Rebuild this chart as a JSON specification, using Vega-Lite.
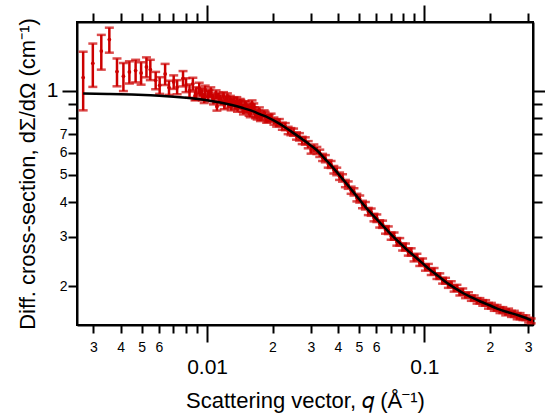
{
  "$schema": "https://vega.github.io/schema/vega-lite/v6.json",
  "autosize": {"type": "none"},
  "padding": {"left": 77, "top": 22, "right": 12, "bottom": 92},
  "width": 456,
  "height": 303,
  "background": "white",
  "config": {
    "view": {"stroke": "black", "strokeWidth": 2},
    "font": "Liberation Sans",
    "axis": {
      "grid": false,
      "domainColor": "black",
      "domainWidth": 2,
      "tickColor": "black",
      "tickWidth": 2,
      "labelColor": "black",
      "titleColor": "black",
      "labelFont": "Liberation Sans",
      "titleFont": "Liberation Sans",
      "titleFontWeight": "normal",
      "labelOverlap": false,
      "labelFlush": false,
      "labelBound": false
    }
  },
  "datasets": {
    "pts": [
      {"q": 0.00269, "I": 1.117, "err": 0.265},
      {"q": 0.00298, "I": 1.256, "err": 0.222},
      {"q": 0.00326, "I": 1.390, "err": 0.198},
      {"q": 0.00355, "I": 1.528, "err": 0.157},
      {"q": 0.00385, "I": 1.173, "err": 0.134},
      {"q": 0.00412, "I": 1.129, "err": 0.130},
      {"q": 0.00439, "I": 1.170, "err": 0.107},
      {"q": 0.00469, "I": 1.183, "err": 0.110},
      {"q": 0.00497, "I": 1.160, "err": 0.107},
      {"q": 0.00526, "I": 1.219, "err": 0.100},
      {"q": 0.00548, "I": 1.193, "err": 0.100},
      {"q": 0.00580, "I": 1.092, "err": 0.078},
      {"q": 0.00605, "I": 1.048, "err": 0.072},
      {"q": 0.00641, "I": 1.150, "err": 0.100},
      {"q": 0.00668, "I": 1.028, "err": 0.060},
      {"q": 0.00702, "I": 1.077, "err": 0.060},
      {"q": 0.00728, "I": 1.033, "err": 0.060},
      {"q": 0.00775, "I": 1.108, "err": 0.070},
      {"q": 0.0080, "I": 1.05, "err": 0.06},
      {"q": 0.0083, "I": 1.00, "err": 0.055},
      {"q": 0.0086, "I": 1.06, "err": 0.055},
      {"q": 0.0088, "I": 0.96, "err": 0.035},
      {"q": 0.0089, "I": 0.98, "err": 0.05},
      {"q": 0.0092, "I": 1.02, "err": 0.05},
      {"q": 0.0093, "I": 0.99, "err": 0.035},
      {"q": 0.0095, "I": 0.97, "err": 0.045},
      {"q": 0.0097, "I": 0.94, "err": 0.035},
      {"q": 0.0098, "I": 1.00, "err": 0.045},
      {"q": 0.0101, "I": 0.96, "err": 0.04},
      {"q": 0.0102, "I": 0.98, "err": 0.03},
      {"q": 0.0104, "I": 0.99, "err": 0.04},
      {"q": 0.0106, "I": 0.95, "err": 0.03},
      {"q": 0.0107, "I": 0.93, "err": 0.035},
      {"q": 0.0110, "I": 0.97, "err": 0.035},
      {"q": 0.0111, "I": 0.88, "err": 0.03},
      {"q": 0.0113, "I": 0.95, "err": 0.035},
      {"q": 0.0115, "I": 0.94, "err": 0.03},
      {"q": 0.0116, "I": 0.92, "err": 0.03},
      {"q": 0.0119, "I": 0.96, "err": 0.03},
      {"q": 0.0120, "I": 0.89, "err": 0.03},
      {"q": 0.0122, "I": 0.93, "err": 0.03},
      {"q": 0.0124, "I": 0.95, "err": 0.03},
      {"q": 0.0125, "I": 0.90, "err": 0.03},
      {"q": 0.0128, "I": 0.93, "err": 0.03},
      {"q": 0.0129, "I": 0.88, "err": 0.028},
      {"q": 0.0131, "I": 0.91, "err": 0.03},
      {"q": 0.0133, "I": 0.92, "err": 0.028},
      {"q": 0.0134, "I": 0.89, "err": 0.03},
      {"q": 0.0137, "I": 0.92, "err": 0.03},
      {"q": 0.0138, "I": 0.87, "err": 0.028},
      {"q": 0.0140, "I": 0.89, "err": 0.028},
      {"q": 0.0142, "I": 0.91, "err": 0.026},
      {"q": 0.0143, "I": 0.90, "err": 0.028},
      {"q": 0.0146, "I": 0.87, "err": 0.028},
      {"q": 0.0147, "I": 0.85, "err": 0.026},
      {"q": 0.0149, "I": 0.89, "err": 0.028},
      {"q": 0.0151, "I": 0.89, "err": 0.026},
      {"q": 0.0152, "I": 0.86, "err": 0.025},
      {"q": 0.0155, "I": 0.87, "err": 0.025},
      {"q": 0.0156, "I": 0.84, "err": 0.025},
      {"q": 0.0158, "I": 0.83, "err": 0.025},
      {"q": 0.0160, "I": 0.87, "err": 0.025},
      {"q": 0.0161, "I": 0.90, "err": 0.025},
      {"q": 0.0164, "I": 0.88, "err": 0.022},
      {"q": 0.0165, "I": 0.85, "err": 0.024},
      {"q": 0.0167, "I": 0.82, "err": 0.022},
      {"q": 0.0169, "I": 0.83, "err": 0.024},
      {"q": 0.0170, "I": 0.81, "err": 0.02},
      {"q": 0.0173, "I": 0.83, "err": 0.02},
      {"q": 0.0174, "I": 0.85, "err": 0.023},
      {"q": 0.0176, "I": 0.80, "err": 0.02},
      {"q": 0.0178, "I": 0.81, "err": 0.022},
      {"q": 0.0183, "I": 0.83, "err": 0.022},
      {"q": 0.0185, "I": 0.818, "err": 0.024},
      {"q": 0.0188, "I": 0.79, "err": 0.021},
      {"q": 0.0191, "I": 0.798, "err": 0.024},
      {"q": 0.0193, "I": 0.80, "err": 0.02},
      {"q": 0.0197, "I": 0.805, "err": 0.024},
      {"q": 0.0203, "I": 0.780, "err": 0.023},
      {"q": 0.0209, "I": 0.768, "err": 0.023},
      {"q": 0.0215, "I": 0.770, "err": 0.023},
      {"q": 0.0222, "I": 0.748, "err": 0.022},
      {"q": 0.0229, "I": 0.745, "err": 0.022},
      {"q": 0.0236, "I": 0.722, "err": 0.022},
      {"q": 0.0243, "I": 0.715, "err": 0.021},
      {"q": 0.0250, "I": 0.712, "err": 0.021},
      {"q": 0.0258, "I": 0.690, "err": 0.021},
      {"q": 0.0266, "I": 0.685, "err": 0.021},
      {"q": 0.0274, "I": 0.665, "err": 0.020},
      {"q": 0.0283, "I": 0.662, "err": 0.020},
      {"q": 0.0292, "I": 0.642, "err": 0.019},
      {"q": 0.0301, "I": 0.615, "err": 0.019},
      {"q": 0.0310, "I": 0.624, "err": 0.019},
      {"q": 0.0320, "I": 0.612, "err": 0.018},
      {"q": 0.0330, "I": 0.598, "err": 0.018},
      {"q": 0.0340, "I": 0.578, "err": 0.017},
      {"q": 0.0350, "I": 0.572, "err": 0.017},
      {"q": 0.0361, "I": 0.548, "err": 0.017},
      {"q": 0.0372, "I": 0.545, "err": 0.016},
      {"q": 0.0383, "I": 0.522, "err": 0.016},
      {"q": 0.0395, "I": 0.515, "err": 0.016},
      {"q": 0.0407, "I": 0.495, "err": 0.015},
      {"q": 0.0420, "I": 0.488, "err": 0.015},
      {"q": 0.0433, "I": 0.466, "err": 0.014},
      {"q": 0.0446, "I": 0.460, "err": 0.014},
      {"q": 0.0460, "I": 0.441, "err": 0.013},
      {"q": 0.0474, "I": 0.435, "err": 0.013},
      {"q": 0.0489, "I": 0.415, "err": 0.013},
      {"q": 0.0504, "I": 0.410, "err": 0.012},
      {"q": 0.0519, "I": 0.392, "err": 0.012},
      {"q": 0.0535, "I": 0.388, "err": 0.012},
      {"q": 0.0552, "I": 0.370, "err": 0.011},
      {"q": 0.0569, "I": 0.368, "err": 0.011},
      {"q": 0.0586, "I": 0.352, "err": 0.011},
      {"q": 0.0604, "I": 0.350, "err": 0.011},
      {"q": 0.0623, "I": 0.334, "err": 0.010},
      {"q": 0.0642, "I": 0.333, "err": 0.010},
      {"q": 0.0662, "I": 0.318, "err": 0.010},
      {"q": 0.0682, "I": 0.317, "err": 0.010},
      {"q": 0.0703, "I": 0.302, "err": 0.009},
      {"q": 0.0725, "I": 0.302, "err": 0.009},
      {"q": 0.0747, "I": 0.288, "err": 0.009},
      {"q": 0.0770, "I": 0.288, "err": 0.009},
      {"q": 0.0794, "I": 0.276, "err": 0.008},
      {"q": 0.0818, "I": 0.276, "err": 0.008},
      {"q": 0.0843, "I": 0.265, "err": 0.008},
      {"q": 0.0869, "I": 0.265, "err": 0.008},
      {"q": 0.0896, "I": 0.252, "err": 0.007},
      {"q": 0.0924, "I": 0.254, "err": 0.007},
      {"q": 0.0952, "I": 0.243, "err": 0.007},
      {"q": 0.0981, "I": 0.244, "err": 0.007},
      {"q": 0.1011, "I": 0.233, "err": 0.006},
      {"q": 0.1043, "I": 0.234, "err": 0.006},
      {"q": 0.1075, "I": 0.225, "err": 0.006},
      {"q": 0.1108, "I": 0.226, "err": 0.006},
      {"q": 0.1142, "I": 0.217, "err": 0.005},
      {"q": 0.1177, "I": 0.217, "err": 0.005},
      {"q": 0.1213, "I": 0.209, "err": 0.005},
      {"q": 0.1251, "I": 0.209, "err": 0.005},
      {"q": 0.1289, "I": 0.202, "err": 0.005},
      {"q": 0.1329, "I": 0.203, "err": 0.005},
      {"q": 0.1370, "I": 0.196, "err": 0.005},
      {"q": 0.1412, "I": 0.197, "err": 0.005},
      {"q": 0.1456, "I": 0.190, "err": 0.005},
      {"q": 0.1501, "I": 0.191, "err": 0.005},
      {"q": 0.1547, "I": 0.185, "err": 0.004},
      {"q": 0.1595, "I": 0.186, "err": 0.004},
      {"q": 0.1644, "I": 0.181, "err": 0.004},
      {"q": 0.1694, "I": 0.181, "err": 0.004},
      {"q": 0.1747, "I": 0.177, "err": 0.004},
      {"q": 0.1800, "I": 0.177, "err": 0.004},
      {"q": 0.1856, "I": 0.174, "err": 0.004},
      {"q": 0.1913, "I": 0.174, "err": 0.004},
      {"q": 0.1972, "I": 0.170, "err": 0.004},
      {"q": 0.2033, "I": 0.170, "err": 0.004},
      {"q": 0.2096, "I": 0.167, "err": 0.004},
      {"q": 0.2160, "I": 0.167, "err": 0.004},
      {"q": 0.2227, "I": 0.164, "err": 0.004},
      {"q": 0.2296, "I": 0.164, "err": 0.004},
      {"q": 0.2367, "I": 0.161, "err": 0.004},
      {"q": 0.2440, "I": 0.162, "err": 0.004},
      {"q": 0.2515, "I": 0.159, "err": 0.004},
      {"q": 0.2592, "I": 0.159, "err": 0.004},
      {"q": 0.2672, "I": 0.156, "err": 0.004},
      {"q": 0.2755, "I": 0.156, "err": 0.004},
      {"q": 0.2840, "I": 0.154, "err": 0.003},
      {"q": 0.2928, "I": 0.154, "err": 0.003},
      {"q": 0.3018, "I": 0.151, "err": 0.003},
      {"q": 0.3100, "I": 0.150, "err": 0.003}
    ],
    "fit": [
      {"q": 0.00269, "I": 0.980},
      {"q": 0.0035, "I": 0.976},
      {"q": 0.0045, "I": 0.971},
      {"q": 0.0055, "I": 0.965},
      {"q": 0.0065, "I": 0.958},
      {"q": 0.0075, "I": 0.950},
      {"q": 0.0085, "I": 0.941},
      {"q": 0.0100, "I": 0.926},
      {"q": 0.0115, "I": 0.909},
      {"q": 0.0130, "I": 0.890},
      {"q": 0.0145, "I": 0.870},
      {"q": 0.0160, "I": 0.850},
      {"q": 0.0176, "I": 0.824},
      {"q": 0.0190, "I": 0.804},
      {"q": 0.0215, "I": 0.764},
      {"q": 0.0250, "I": 0.706},
      {"q": 0.0285, "I": 0.657},
      {"q": 0.0320, "I": 0.613},
      {"q": 0.0350, "I": 0.569},
      {"q": 0.0383, "I": 0.527},
      {"q": 0.0420, "I": 0.484},
      {"q": 0.0457, "I": 0.447},
      {"q": 0.0500, "I": 0.410},
      {"q": 0.0545, "I": 0.378},
      {"q": 0.0585, "I": 0.356},
      {"q": 0.0627, "I": 0.336},
      {"q": 0.0700, "I": 0.307},
      {"q": 0.0775, "I": 0.284},
      {"q": 0.0830, "I": 0.270},
      {"q": 0.0893, "I": 0.257},
      {"q": 0.0970, "I": 0.243},
      {"q": 0.1066, "I": 0.228},
      {"q": 0.1160, "I": 0.217},
      {"q": 0.1272, "I": 0.205},
      {"q": 0.1390, "I": 0.196},
      {"q": 0.1517, "I": 0.188},
      {"q": 0.1650, "I": 0.182},
      {"q": 0.1810, "I": 0.176},
      {"q": 0.1980, "I": 0.171},
      {"q": 0.2161, "I": 0.166},
      {"q": 0.2360, "I": 0.162},
      {"q": 0.2576, "I": 0.159},
      {"q": 0.2770, "I": 0.156},
      {"q": 0.2970, "I": 0.153},
      {"q": 0.3100, "I": 0.151}
    ]
  },
  "layer": [
    {
      "data": {"name": "pts"},
      "mark": {"type": "errorbar", "color": "#cc0000", "thickness": 2.5, "ticks": {"size": 9, "thickness": 2.5, "color": "#cc0000"}},
      "encoding": {
        "x": {
          "field": "q", "type": "quantitative",
          "scale": {"type": "log", "domain": [0.00252, 0.316], "nice": false},
          "axis": {
            "orient": "bottom",
            "values": [0.003, 0.004, 0.005, 0.006, 0.007, 0.008, 0.009, 0.01, 0.02, 0.03, 0.04, 0.05, 0.06, 0.07, 0.08, 0.09, 0.1, 0.2, 0.3],
            "labelExpr": "datum.value == 0.01 ? '0.01' : datum.value == 0.1 ? '0.1' : (toNumber(slice(toString(datum.value), -1)) <= 6 ? slice(toString(datum.value), -1) : '')",
            "tickSize": {"condition": {"test": "datum.value == 0.01 || datum.value == 0.1", "value": 17}, "value": 8},
            "labelFontSize": {"condition": {"test": "datum.value == 0.01 || datum.value == 0.1", "value": 21}, "value": 14},
            "labelPadding": {"condition": {"test": "datum.value == 0.01 || datum.value == 0.1", "value": 14}, "value": 7},
            "labelBaseline": "top",
            "title": "Scattering vector, 𝑞 (Å⁻¹)",
            "titleFontSize": 22,
            "titleBaseline": "alphabetic",
            "titleY": 82
          }
        },
        "y": {
          "field": "I", "type": "quantitative",
          "scale": {"type": "log", "domain": [0.145, 1.766], "nice": false},
          "axis": {
            "orient": "left",
            "values": [0.2, 0.3, 0.4, 0.5, 0.6, 0.7, 0.8, 0.9, 1],
            "labelExpr": "datum.value == 1 ? '1' : (datum.value <= 0.7 ? slice(toString(datum.value), -1) : '')",
            "tickSize": {"condition": {"test": "datum.value == 1", "value": 15}, "value": 9},
            "labelFontSize": {"condition": {"test": "datum.value == 1", "value": 21}, "value": 14},
            "labelPadding": {"condition": {"test": "datum.value == 1", "value": 4}, "value": 1},
            "title": "Diff. cross-section, dΣ/dΩ (cm⁻¹)",
            "titleFontSize": 22,
            "titleBaseline": "alphabetic",
            "titleX": -43
          }
        },
        "yError": {"field": "err"}
      }
    },
    {
      "data": {"name": "pts"},
      "mark": {"type": "circle", "color": "#cc0000", "size": 14, "opacity": 1},
      "encoding": {
        "x": {"field": "q", "type": "quantitative", "scale": {"type": "log", "domain": [0.00252, 0.316], "nice": false}, "axis": null},
        "y": {"field": "I", "type": "quantitative", "scale": {"type": "log", "domain": [0.145, 1.766], "nice": false}, "axis": null}
      }
    },
    {
      "data": {"name": "fit"},
      "mark": {"type": "line", "color": "black", "strokeWidth": 2.5, "interpolate": "monotone"},
      "encoding": {
        "x": {
          "field": "q", "type": "quantitative",
          "scale": {"type": "log", "domain": [0.00252, 0.316], "nice": false},
          "axis": {
            "orient": "top",
            "values": [0.003, 0.004, 0.005, 0.006, 0.007, 0.008, 0.009, 0.01, 0.02, 0.03, 0.04, 0.05, 0.06, 0.07, 0.08, 0.09, 0.1, 0.2, 0.3],
            "labels": false,
            "title": null,
            "tickSize": {"condition": {"test": "datum.value == 0.01 || datum.value == 0.1", "value": 17}, "value": 9}
          }
        },
        "y": {
          "field": "I", "type": "quantitative",
          "scale": {"type": "log", "domain": [0.145, 1.766], "nice": false},
          "axis": {
            "orient": "right",
            "values": [0.2, 0.3, 0.4, 0.5, 0.6, 0.7, 0.8, 0.9, 1],
            "labels": false,
            "title": null,
            "tickSize": {"condition": {"test": "datum.value == 1", "value": 15}, "value": 9}
          }
        }
      }
    }
  ],
  "resolve": {"axis": {"x": "independent", "y": "independent"}}
}
